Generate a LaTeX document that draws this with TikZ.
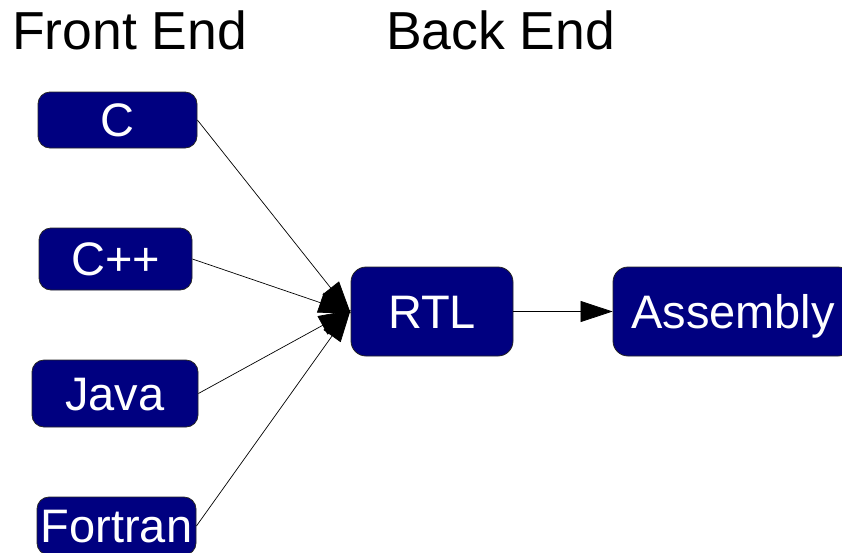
\documentclass[tikz,border=0pt]{standalone}
\usepackage{fontspec}
\setmainfont{Liberation Sans}
\usetikzlibrary{arrows.meta}
\definecolor{boxnavy}{HTML}{000080}
\begin{document}
\begin{tikzpicture}[x=1pt,y=-1pt,
  lang/.style={draw=black!85, line width=0.8pt, fill=boxnavy, text=white,
    rounded corners=12pt, inner sep=0pt, text height=33pt, text depth=0pt,
    font=\fontsize{47}{50}\selectfont},
  title/.style={anchor=base west, inner sep=0pt, font=\fontsize{53.5}{56}\selectfont},
  conn/.style={draw=black, line width=0.7pt, -{Triangle[length=32pt,width=21pt]}}
]
\useasboundingbox (0,0) rectangle (842,552);
\node[title] (fe) at (12,49) {Front End};
\node[title] (be) at (386,49) {Back End};
\node[lang, minimum width=159pt, minimum height=56pt] (c) at (117.5,120) {C};
\node[lang, minimum width=153pt, minimum height=62pt] (cpp) at (115.5,259) {C++};
\node[lang, minimum width=166pt, minimum height=67pt] (java) at (115,393.5) {Java};
\node[lang, minimum width=159pt, minimum height=58pt] (fortran) at (116.5,526) {Fortran};
\node[lang, rounded corners=15pt, minimum width=162pt, minimum height=89pt] (rtl) at (432,311.5) {RTL};
\node[lang, rounded corners=15pt, minimum width=240pt, minimum height=89pt] (asm) at (733,311.5) {Assembly};
\draw[conn] (c.east) -- ([yshift=-1.5pt]rtl.west);
\draw[conn] (cpp.east) -- ([yshift=-1.5pt]rtl.west);
\draw[conn] (java.east) -- ([yshift=1.5pt]rtl.west);
\draw[conn] (fortran.east) -- ([yshift=1.5pt]rtl.west);
\draw[conn] (rtl.east) -- (asm.west);
\end{tikzpicture}
\end{document}
